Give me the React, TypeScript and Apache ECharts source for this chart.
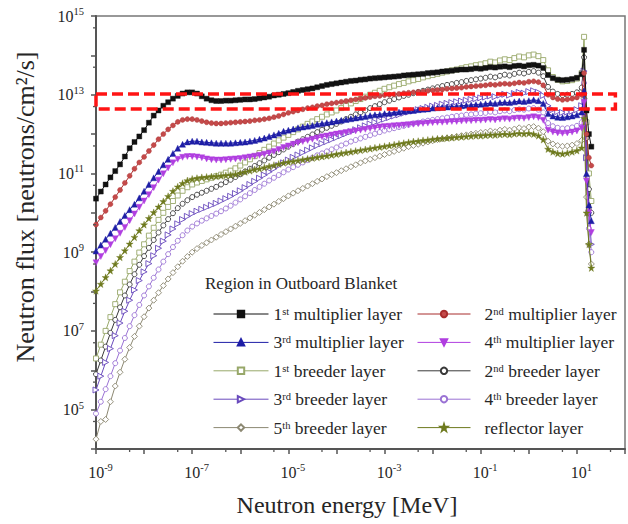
import React, { useEffect, useRef } from "react";
import * as echarts from "echarts";

const SERIF = '"Liberation Serif", "Times New Roman", serif';

// Energy points as log10(E / MeV): 0.1-decade steps from 1e-9 MeV up to ~12.6 MeV,
// then the 14.1 MeV source peak and the 15-20 MeV tail.
const energyLog10: number[] = [];
for (let i = 0; i <= 101; i++) energyLog10.push(Math.round((-9 + i * 0.1) * 10) / 10);
energyLog10.push(1.149, 1.2, 1.25, 1.3);

// log10 of the neutron flux [neutrons/cm²/s] of every layer at each energy point
const fluxMult1 = [
  10.36, 10.54, 10.72, 10.90, 11.06, 11.23, 11.43, 11.64, 11.80, 11.94,
  12.10, 12.29, 12.47, 12.60, 12.72, 12.81, 12.90, 12.97, 13.03, 13.06,
  13.06, 13.03, 12.96, 12.90, 12.86, 12.84, 12.84, 12.85, 12.85, 12.86,
  12.87, 12.88, 12.88, 12.89, 12.91, 12.93, 12.95, 12.98, 13.00, 13.02,
  13.04, 13.07, 13.10, 13.12, 13.14, 13.16, 13.19, 13.22, 13.25, 13.27,
  13.29, 13.31, 13.33, 13.35, 13.36, 13.38, 13.39, 13.41, 13.42, 13.43,
  13.44, 13.45, 13.46, 13.47, 13.49, 13.50, 13.51, 13.52, 13.53, 13.55,
  13.56, 13.57, 13.59, 13.60, 13.61, 13.63, 13.64, 13.64, 13.65, 13.67,
  13.66, 13.68, 13.70, 13.69, 13.71, 13.72, 13.70, 13.73, 13.74, 13.72,
  13.75, 13.76, 13.74, 13.68, 13.50, 13.42, 13.38, 13.37, 13.38, 13.40,
  13.43, 13.52,
  14.14, 12.60, 12.00, 11.68,
];
const fluxMult2 = [
  9.70, 9.88, 10.05, 10.22, 10.40, 10.58, 10.76, 10.94, 11.12, 11.28,
  11.42, 11.57, 11.72, 11.87, 12.00, 12.12, 12.22, 12.31, 12.36, 12.38,
  12.38, 12.36, 12.33, 12.30, 12.28, 12.27, 12.27, 12.28, 12.29, 12.30,
  12.31, 12.32, 12.33, 12.35, 12.36, 12.38, 12.40, 12.43, 12.46, 12.50,
  12.54, 12.57, 12.60, 12.63, 12.66, 12.68, 12.71, 12.73, 12.76, 12.78,
  12.80, 12.82, 12.84, 12.86, 12.88, 12.90, 12.92, 12.94, 12.96, 12.97,
  12.99, 13.00, 13.01, 13.02, 13.04, 13.05, 13.06, 13.07, 13.08, 13.10,
  13.11, 13.12, 13.13, 13.15, 13.16, 13.17, 13.18, 13.20, 13.21, 13.22,
  13.23, 13.24, 13.26, 13.25, 13.27, 13.28, 13.27, 13.29, 13.31, 13.30,
  13.33, 13.34, 13.32, 13.24, 13.00, 12.93, 12.89, 12.87, 12.88, 12.90,
  12.93, 13.00,
  13.55, 12.00, 11.40, 11.20,
];
const fluxMult3 = [
  9.03, 9.18, 9.33, 9.48, 9.63, 9.78, 9.93, 10.08, 10.22, 10.38,
  10.55, 10.72, 10.89, 11.05, 11.22, 11.36, 11.51, 11.64, 11.74, 11.80,
  11.82, 11.82, 11.80, 11.79, 11.78, 11.77, 11.77, 11.77, 11.77, 11.78,
  11.79, 11.80, 11.82, 11.84, 11.87, 11.90, 11.94, 11.98, 12.02, 12.07,
  12.10, 12.13, 12.16, 12.18, 12.20, 12.22, 12.25, 12.27, 12.29, 12.31,
  12.33, 12.35, 12.37, 12.39, 12.41, 12.43, 12.45, 12.47, 12.49, 12.50,
  12.52, 12.53, 12.55, 12.56, 12.58, 12.59, 12.60, 12.62, 12.63, 12.64,
  12.66, 12.67, 12.68, 12.69, 12.70, 12.71, 12.72, 12.73, 12.74, 12.75,
  12.76, 12.77, 12.79, 12.78, 12.80, 12.81, 12.80, 12.82, 12.84, 12.83,
  12.85, 12.87, 12.85, 12.78, 12.52, 12.46, 12.43, 12.42, 12.44, 12.46,
  12.49, 12.56,
  13.10, 11.00, 10.20, 9.80,
];
const fluxMult4 = [
  8.73, 8.89, 9.04, 9.19, 9.34, 9.48, 9.63, 9.80, 9.97, 10.14,
  10.30, 10.46, 10.64, 10.83, 10.99, 11.14, 11.27, 11.36, 11.41, 11.43,
  11.43, 11.42, 11.40, 11.37, 11.35, 11.34, 11.34, 11.35, 11.36, 11.37,
  11.38, 11.40, 11.42, 11.44, 11.46, 11.49, 11.52, 11.56, 11.61, 11.66,
  11.70, 11.74, 11.78, 11.81, 11.84, 11.87, 11.90, 11.93, 11.95, 11.98,
  12.00, 12.02, 12.04, 12.06, 12.08, 12.10, 12.12, 12.14, 12.16, 12.18,
  12.19, 12.20, 12.21, 12.22, 12.23, 12.24, 12.25, 12.26, 12.27, 12.28,
  12.29, 12.30, 12.30, 12.31, 12.32, 12.32, 12.33, 12.34, 12.34, 12.35,
  12.35, 12.36, 12.37, 12.36, 12.38, 12.39, 12.38, 12.40, 12.41, 12.40,
  12.42, 12.44, 12.42, 12.35, 12.10, 12.05, 12.03, 12.02, 12.03, 12.05,
  12.08, 12.15,
  12.80, 10.80, 10.00, 9.50,
];
const fluxBreeder1 = [
  6.30, 6.65, 7.00, 7.35, 7.68, 7.98, 8.25, 8.52, 8.76, 8.99,
  9.20, 9.42, 9.62, 9.82, 10.00, 10.15, 10.30, 10.44, 10.56, 10.65,
  10.72, 10.77, 10.81, 10.85, 10.89, 10.93, 10.97, 11.02, 11.07, 11.13,
  11.20, 11.28, 11.36, 11.44, 11.52, 11.60, 11.68, 11.76, 11.84, 11.91,
  11.98, 12.05, 12.12, 12.19, 12.26, 12.32, 12.38, 12.44, 12.50, 12.55,
  12.60, 12.66, 12.72, 12.78, 12.84, 12.89, 12.95, 13.00, 13.05, 13.10,
  13.15, 13.19, 13.23, 13.27, 13.30, 13.34, 13.37, 13.40, 13.44, 13.47,
  13.50, 13.53, 13.56, 13.59, 13.62, 13.64, 13.67, 13.70, 13.72, 13.75,
  13.77, 13.80, 13.84, 13.82, 13.87, 13.90, 13.88, 13.93, 13.97, 13.95,
  14.00, 14.02, 13.98, 13.88, 13.62, 13.45, 13.38, 13.34, 13.35, 13.37,
  13.41, 13.55,
  14.47, 12.30, 11.00, 10.30,
];
const fluxBreeder2 = [
  5.90, 6.25, 6.60, 6.95, 7.28, 7.60, 7.90, 8.18, 8.44, 8.68,
  8.90, 9.11, 9.31, 9.50, 9.68, 9.84, 9.99, 10.12, 10.23, 10.32,
  10.40, 10.46, 10.51, 10.56, 10.61, 10.66, 10.72, 10.78, 10.84, 10.91,
  10.98, 11.05, 11.12, 11.19, 11.26, 11.33, 11.40, 11.47, 11.54, 11.61,
  11.68, 11.75, 11.81, 11.87, 11.93, 11.99, 12.05, 12.11, 12.16, 12.21,
  12.26, 12.32, 12.38, 12.44, 12.50, 12.55, 12.60, 12.66, 12.71, 12.76,
  12.81, 12.85, 12.89, 12.93, 12.97, 13.00, 13.04, 13.07, 13.10, 13.13,
  13.16, 13.19, 13.22, 13.25, 13.27, 13.30, 13.32, 13.35, 13.37, 13.39,
  13.41, 13.43, 13.46, 13.44, 13.48, 13.51, 13.49, 13.53, 13.56, 13.54,
  13.58, 13.60, 13.56, 13.47, 13.20, 13.08, 13.02, 12.99, 13.00, 13.02,
  13.06, 13.18,
  13.95, 11.90, 10.60, 10.00,
];
const fluxBreeder3 = [
  5.50, 5.85, 6.20, 6.55, 6.88, 7.20, 7.50, 7.78, 8.04, 8.28,
  8.50, 8.71, 8.91, 9.10, 9.28, 9.44, 9.59, 9.72, 9.83, 9.91,
  9.98, 10.04, 10.09, 10.14, 10.19, 10.24, 10.30, 10.36, 10.42, 10.49,
  10.56, 10.64, 10.72, 10.80, 10.88, 10.96, 11.04, 11.12, 11.20, 11.27,
  11.34, 11.41, 11.47, 11.53, 11.59, 11.65, 11.71, 11.76, 11.81, 11.86,
  11.91, 11.96, 12.01, 12.06, 12.11, 12.16, 12.21, 12.26, 12.30, 12.34,
  12.38, 12.42, 12.46, 12.49, 12.53, 12.56, 12.59, 12.62, 12.65, 12.68,
  12.71, 12.73, 12.76, 12.78, 12.80, 12.82, 12.84, 12.86, 12.88, 12.90,
  12.92, 12.94, 12.97, 12.95, 12.99, 13.01, 12.99, 13.03, 13.06, 13.04,
  13.08, 13.10, 13.06, 12.98, 12.72, 12.62, 12.57, 12.55, 12.56, 12.58,
  12.62, 12.72,
  13.60, 11.40, 10.00, 9.20,
];
const fluxBreeder4 = [
  4.90, 5.20, 5.52, 5.85, 6.18, 6.50, 6.82, 7.12, 7.40, 7.66,
  7.90, 8.13, 8.35, 8.56, 8.76, 8.95, 9.13, 9.29, 9.43, 9.55,
  9.65, 9.73, 9.80, 9.86, 9.92, 9.98, 10.04, 10.11, 10.18, 10.26,
  10.34, 10.42, 10.50, 10.58, 10.66, 10.74, 10.82, 10.89, 10.96, 11.03,
  11.10, 11.16, 11.22, 11.28, 11.34, 11.40, 11.46, 11.51, 11.56, 11.61,
  11.66, 11.71, 11.76, 11.81, 11.85, 11.89, 11.93, 11.97, 12.01, 12.05,
  12.09, 12.12, 12.15, 12.18, 12.21, 12.24, 12.27, 12.29, 12.32, 12.34,
  12.36, 12.38, 12.40, 12.42, 12.44, 12.46, 12.47, 12.49, 12.50, 12.52,
  12.53, 12.54, 12.57, 12.55, 12.58, 12.60, 12.58, 12.61, 12.63, 12.62,
  12.65, 12.66, 12.62, 12.55, 12.28, 12.20, 12.16, 12.14, 12.15, 12.17,
  12.21, 12.30,
  13.30, 10.90, 9.60, 9.00,
];
const fluxBreeder5 = [
  4.25, 4.70, 4.75, 5.20, 5.60, 5.95, 6.28, 6.58, 6.86, 7.12,
  7.36, 7.58, 7.78, 7.97, 8.15, 8.32, 8.48, 8.63, 8.77, 8.89,
  9.00, 9.09, 9.17, 9.24, 9.31, 9.38, 9.45, 9.52, 9.59, 9.66,
  9.73, 9.80, 9.87, 9.94, 10.01, 10.08, 10.15, 10.22, 10.29, 10.36,
  10.43, 10.50, 10.56, 10.62, 10.68, 10.74, 10.80, 10.86, 10.92, 10.97,
  11.02, 11.07, 11.12, 11.17, 11.22, 11.27, 11.32, 11.36, 11.40, 11.44,
  11.48, 11.52, 11.56, 11.60, 11.64, 11.68, 11.71, 11.74, 11.77, 11.80,
  11.83, 11.86, 11.88, 11.90, 11.92, 11.94, 11.96, 11.98, 12.00, 12.02,
  12.04, 12.05, 12.08, 12.06, 12.10, 12.12, 12.10, 12.13, 12.16, 12.14,
  12.18, 12.19, 12.15, 12.06, 11.82, 11.75, 11.71, 11.69, 11.70, 11.72,
  11.76, 11.84,
  12.90, 10.40, 9.20, 8.70,
];
const fluxReflector = [
  8.02, 8.19, 8.36, 8.53, 8.70, 8.87, 9.04, 9.21, 9.38, 9.55,
  9.70, 9.86, 10.01, 10.15, 10.29, 10.42, 10.55, 10.66, 10.75, 10.82,
  10.86, 10.88, 10.90, 10.91, 10.92, 10.93, 10.94, 10.95, 10.96, 10.98,
  11.01, 11.04, 11.07, 11.10, 11.12, 11.15, 11.18, 11.21, 11.24, 11.27,
  11.29, 11.31, 11.33, 11.35, 11.37, 11.39, 11.41, 11.43, 11.45, 11.47,
  11.49, 11.51, 11.53, 11.55, 11.57, 11.59, 11.61, 11.63, 11.65, 11.67,
  11.69, 11.71, 11.73, 11.75, 11.77, 11.79, 11.81, 11.82, 11.84, 11.85,
  11.87, 11.88, 11.89, 11.90, 11.91, 11.92, 11.93, 11.94, 11.95, 11.96,
  11.96, 11.97, 11.98, 11.98, 11.99, 12.00, 11.99, 12.01, 12.02, 12.01,
  12.02, 12.00, 11.96, 11.86, 11.62, 11.55, 11.51, 11.50, 11.52, 11.55,
  11.58, 11.65,
  12.40, 10.00, 9.20, 8.60,
];

// Axis decades that carry a "10^n" label
const xLabelExponents = [-9, -7, -5, -3, -1, 1];
const yLabelExponents = [5, 7, 9, 11, 13, 15];
// Short ticks at 5 x 10^n
const xMinorTicks = [-9, -8, -7, -6, -5, -4, -3, -2, -1, 0, 1].map((n) => n + Math.log10(5));
const yMinorTicks = [4, 5, 6, 7, 8, 9, 10, 11, 12, 13, 14].map((n) => n + Math.log10(5));

// Highlighted band: x from 1e-9 to ~60 MeV, flux from ~4.4e12 to 1e13
const bandBox = [-9, 13.02, 1.8, 12.64];

const STAR = "path://M50,0 L61,35 98,35 68,57 79,91 50,70 21,91 32,57 2,35 39,35 Z";

type Layer = {
  name: string;
  ord: string;
  rest: string;
  flux: number[];
  color: string;
  fill: string;
  symbol: string;
  size: number;
  rotate?: number;
  open: boolean;
};

const layers: Layer[] = [
  { name: "1st multiplier layer", ord: "1", rest: "st", flux: fluxMult1, color: "#111111", fill: "#111111", symbol: "rect", size: 5, open: false },
  { name: "2nd multiplier layer", ord: "2", rest: "nd", flux: fluxMult2, color: "#a82c2c", fill: "#c44a4a", symbol: "circle", size: 5, open: false },
  { name: "3rd multiplier layer", ord: "3", rest: "rd", flux: fluxMult3, color: "#1e1ea6", fill: "#1e1ea6", symbol: "triangle", size: 6, open: false },
  { name: "4th multiplier layer", ord: "4", rest: "th", flux: fluxMult4, color: "#b03ee0", fill: "#b03ee0", symbol: "triangle", size: 6, rotate: 180, open: false },
  { name: "1st breeder layer", ord: "1", rest: "st", flux: fluxBreeder1, color: "#98a86a", fill: "#ffffff", symbol: "rect", size: 5, open: true },
  { name: "2nd breeder layer", ord: "2", rest: "nd", flux: fluxBreeder2, color: "#3a3a3a", fill: "#ffffff", symbol: "circle", size: 5, open: true },
  { name: "3rd breeder layer", ord: "3", rest: "rd", flux: fluxBreeder3, color: "#6a4bbd", fill: "#ffffff", symbol: "triangle", size: 6, rotate: -90, open: true },
  { name: "4th breeder layer", ord: "4", rest: "th", flux: fluxBreeder4, color: "#9a72d4", fill: "#ffffff", symbol: "circle", size: 5, open: true },
  { name: "5th breeder layer", ord: "5", rest: "th", flux: fluxBreeder5, color: "#8c8872", fill: "#ffffff", symbol: "diamond", size: 6, open: true },
  { name: "reflector layer", ord: "", rest: "", flux: fluxReflector, color: "#6e7a1e", fill: "#6e7a1e", symbol: STAR, size: 7, open: false },
];

const legendLeft = ["1st multiplier layer", "3rd multiplier layer", "1st breeder layer", "3rd breeder layer", "5th breeder layer"];
const legendRight = ["2nd multiplier layer", "4th multiplier layer", "2nd breeder layer", "4th breeder layer", "reflector layer"];

const TEXT = "#262626";

function legendText(name: string, indent: boolean): string {
  const layer = layers.find((l) => l.name === name);
  const pad = indent ? "{g| }" : "";
  if (!layer || !layer.ord) return `${pad}{n|${name}}`;
  const tail = name.slice(layer.ord.length + layer.rest.length);
  return `${pad}{n|${layer.ord}}{s|${layer.rest}}{n|${tail}}`;
}

const legendRich = {
  n: { fontFamily: SERIF, fontSize: 17.5, color: TEXT, lineHeight: 16 },
  s: { fontFamily: SERIF, fontSize: 10.5, color: TEXT, lineHeight: 9, verticalAlign: "top" },
  g: { width: 9 },
};

const tickRich = {
  b: { fontFamily: SERIF, fontSize: 16, color: TEXT, lineHeight: 20 },
  e: { fontFamily: SERIF, fontSize: 10.5, color: TEXT, lineHeight: 10, verticalAlign: "top" },
};

function powerLabel(v: number, shown: number[]): string {
  const n = Math.round(v);
  return shown.includes(n) ? `{b|10}{e|${n}}` : "";
}

export default function App() {
  const ref = useRef<HTMLDivElement>(null);

  useEffect(() => {
    if (!ref.current) return;
    document.body.style.margin = "0";
    const chart = echarts.init(ref.current, undefined, { renderer: "svg" });

    const layerSeries = layers.map((layer) => ({
      type: "line",
      name: layer.name,
      data: energyLog10.map((e, k) => [e, layer.flux[k]]),
      symbol: layer.symbol,
      symbolSize: layer.size,
      symbolRotate: layer.rotate ?? 0,
      showSymbol: true,
      lineStyle: { color: layer.color, width: 1 },
      itemStyle: { color: layer.fill, borderColor: layer.color, borderWidth: layer.open ? 0.9 : 0.4 },
      emphasis: { disabled: true },
      z: layer.open ? 2 : 3,
    }));

    const axisColor = "#555";
    const legendItems = (names: string[]) =>
      names.map((name) => ({ name, lineStyle: { width: 1 } }));
    const legendBase = {
      top: 300,
      orient: "vertical",
      itemHeight: 8,
      itemGap: 10.4,
      selectedMode: false,
      lineStyle: { width: 1 },
      textStyle: { rich: legendRich },
    };

    chart.setOption({
      animation: false,
      backgroundColor: "#ffffff",
      grid: { left: 96, top: 16, right: -3, bottom: 75, show: true, borderColor: "#777", borderWidth: 1.5 },
      xAxis: {
        type: "value",
        min: -9,
        max: 2,
        interval: 1,
        axisLine: { onZero: false, lineStyle: { color: axisColor, width: 2 } },
        axisTick: { length: 5, lineStyle: { color: axisColor, width: 1.5 } },
        axisLabel: {
          margin: 13,
          padding: [0, 0, 0, 9],
          formatter: (v: number) => powerLabel(v, xLabelExponents),
          rich: tickRich,
        },
        splitLine: { show: false },
      },
      yAxis: {
        type: "value",
        min: 4,
        max: 15,
        interval: 1,
        axisLine: { onZero: false, lineStyle: { color: axisColor, width: 2 } },
        axisTick: { length: 5, lineStyle: { color: axisColor, width: 1.5 } },
        axisLabel: {
          margin: 12,
          formatter: (v: number) => powerLabel(v, yLabelExponents),
          rich: tickRich,
        },
        splitLine: { show: false },
      },
      legend: [
        {
          ...legendBase,
          data: legendItems(legendLeft),
          left: 208,
          itemWidth: 55,
          formatter: (name: string) => legendText(name, false),
        },
        {
          ...legendBase,
          data: legendItems(legendRight),
          left: 412,
          itemWidth: 53,
          formatter: (name: string) => legendText(name, true),
        },
      ],
      graphic: [
        {
          type: "text",
          left: 205,
          top: 275,
          style: { text: "Region in Outboard Blanket", font: `17px ${SERIF}`, fill: TEXT },
        },
        {
          type: "text",
          x: 25,
          y: 207,
          rotation: Math.PI / 2,
          style: {
            text: "Neutron flux [neutrons/cm²/s]",
            font: `26px ${SERIF}`,
            fill: TEXT,
            align: "center",
            verticalAlign: "middle",
          },
        },
        {
          type: "text",
          x: 347,
          y: 505,
          style: {
            text: "Neutron energy [MeV]",
            font: `24px ${SERIF}`,
            fill: TEXT,
            align: "center",
            verticalAlign: "middle",
          },
        },
      ],
      series: [
        ...layerSeries,
        {
          type: "custom",
          name: "x minor ticks",
          silent: true,
          clip: false,
          z: 6,
          data: xMinorTicks.map((v) => [v, 4]),
          renderItem: (_p: any, api: any) => {
            const p = api.coord([api.value(0), api.value(1)]);
            return {
              type: "line",
              shape: { x1: p[0], y1: p[1], x2: p[0], y2: p[1] + 3 },
              style: { stroke: axisColor, lineWidth: 1.3 },
            };
          },
        },
        {
          type: "custom",
          name: "y minor ticks",
          silent: true,
          clip: false,
          z: 6,
          data: yMinorTicks.map((v) => [-9, v]),
          renderItem: (_p: any, api: any) => {
            const p = api.coord([api.value(0), api.value(1)]);
            return {
              type: "line",
              shape: { x1: p[0] - 3, y1: p[1], x2: p[0], y2: p[1] },
              style: { stroke: axisColor, lineWidth: 1.3 },
            };
          },
        },
        {
          type: "custom",
          name: "band",
          silent: true,
          clip: false,
          z: 10,
          encode: { x: [0, 2], y: [1, 3] },
          data: [bandBox],
          renderItem: (_p: any, api: any) => {
            const a = api.coord([api.value(0), api.value(1)]);
            const b = api.coord([api.value(2), api.value(3)]);
            return {
              type: "rect",
              shape: { x: a[0], y: a[1], width: b[0] - a[0], height: b[1] - a[1] },
              style: { fill: "none", stroke: "#ff1414", lineWidth: 3.5, lineDash: [11, 5] },
            };
          },
        },
      ],
    });

    return () => chart.dispose();
  }, []);

  return (
    <div
      ref={ref}
      style={{ position: "fixed", left: 0, top: 0, width: 628, height: 524, background: "#fff" }}
    />
  );
}
